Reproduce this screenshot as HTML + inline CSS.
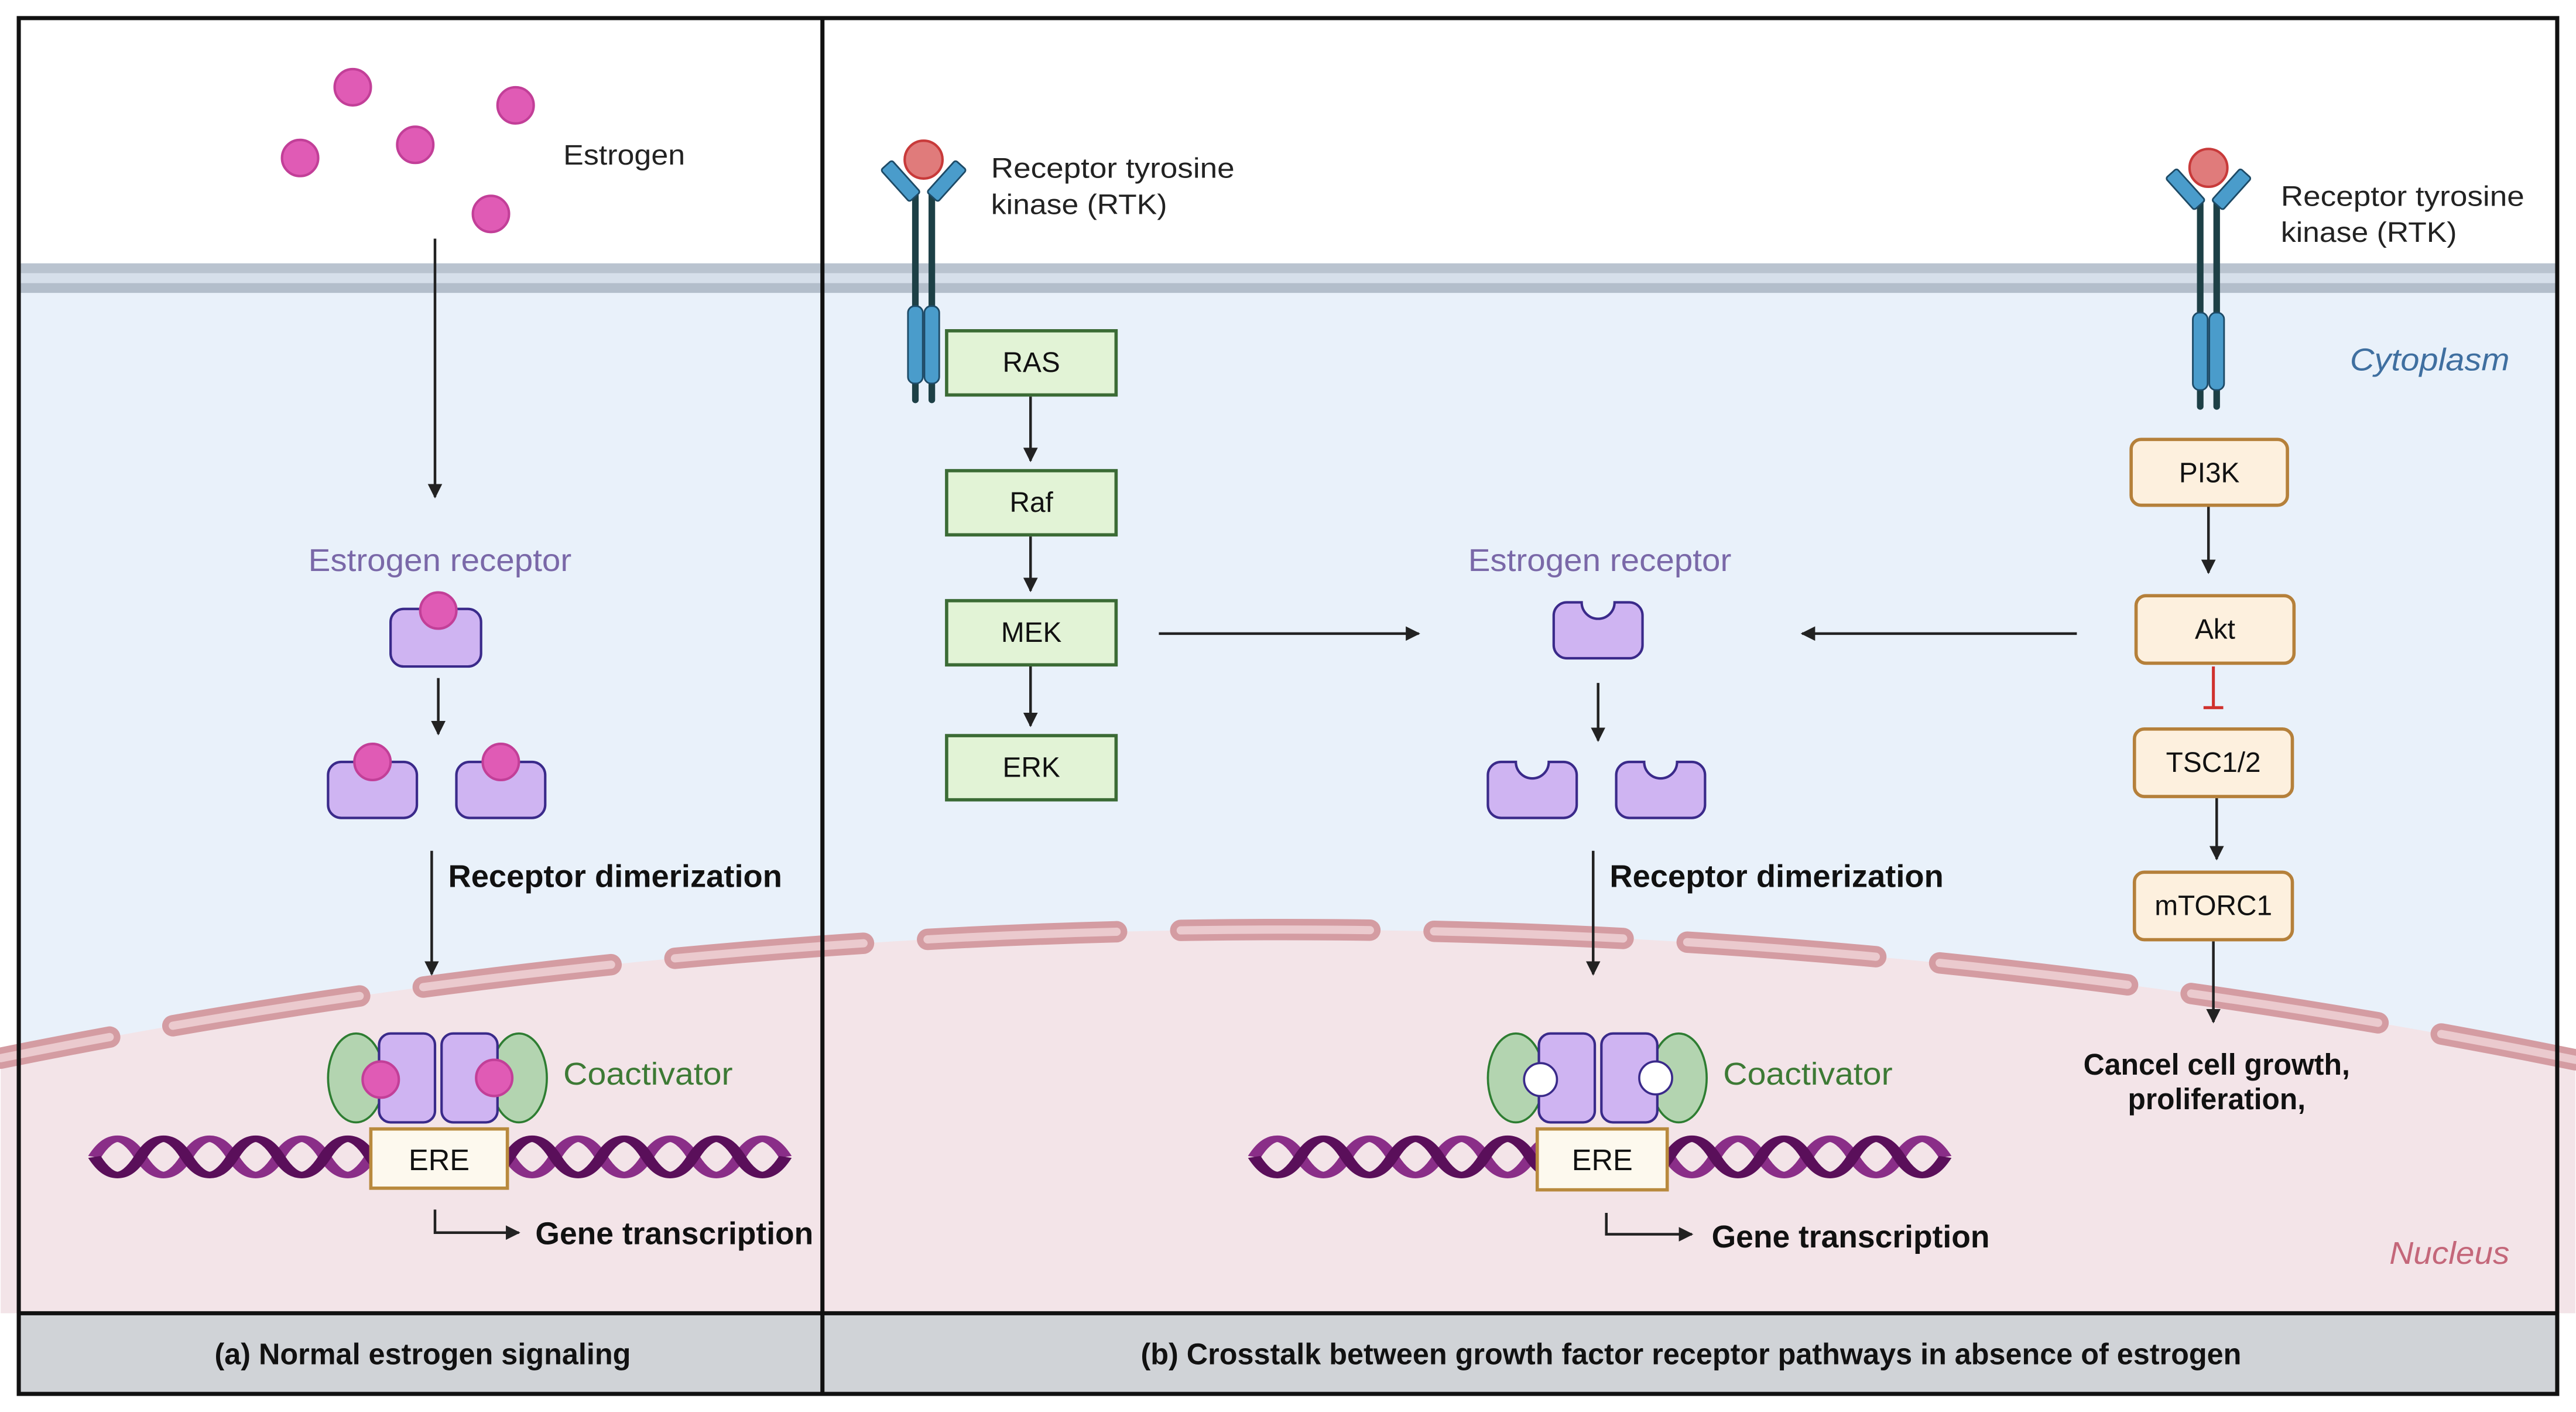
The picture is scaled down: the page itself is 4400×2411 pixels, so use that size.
<!DOCTYPE html>
<html><head><meta charset="utf-8"><style>html,body{margin:0;padding:0;background:#fff}svg{display:block}text{font-family:"Liberation Sans",sans-serif}</style></head><body>
<svg xmlns="http://www.w3.org/2000/svg" width="4400" height="2411" viewBox="0 0 1565 858">
<defs>
<marker id="ah" viewBox="0 0 10 10" refX="9" refY="5" markerWidth="5.5" markerHeight="5.5" orient="auto-start-reverse"><path d="M0,0L10,5L0,10z" fill="#222"/></marker>
</defs>
<rect width="1565" height="858" fill="#fff"/>
<rect x="10" y="178" width="1545" height="620" fill="#e9f1fa"/>
<rect x="10" y="160" width="1545" height="6" fill="#b9c3cf"/>
<rect x="10" y="166" width="1545" height="6" fill="#d6dfea"/>
<rect x="10" y="172" width="1545" height="6" fill="#b3becb"/>
<path d="M0,643 A3932,3932 0 0 1 1565,644 L1565,798 L0,798Z" fill="#f3e4e8"/>
<path d="M0,643 A3932,3932 0 0 1 1565,644" fill="none" stroke="#d49ca2" stroke-width="13" stroke-linecap="round" stroke-dasharray="115 39" stroke-dashoffset="47.5"/>
<path d="M0,643 A3932,3932 0 0 1 1565,644" fill="none" stroke="#ebcace" stroke-width="5" stroke-linecap="round" stroke-dasharray="115 39" stroke-dashoffset="47.5"/>

<!-- ===== Panel A ===== -->
<g fill="#e05bb5" stroke="#c23f98" stroke-width="1.5">
<circle cx="214" cy="53" r="11"/><circle cx="182" cy="96" r="11"/><circle cx="252" cy="88" r="11"/><circle cx="313" cy="64" r="11"/><circle cx="298" cy="130" r="11"/>
</g>
<text x="342" y="100" font-size="17" fill="#222" textLength="74" lengthAdjust="spacingAndGlyphs">Estrogen</text>
<line x1="264" y1="145" x2="264" y2="302" stroke="#222" stroke-width="1.6" marker-end="url(#ah)"/>
<text x="187" y="347" font-size="19" fill="#7a68a8" textLength="160" lengthAdjust="spacingAndGlyphs">Estrogen receptor</text>
<g fill="#cfb4f2" stroke="#3a2a8a" stroke-width="1.5">
<rect x="237" y="370" width="55" height="35" rx="8"/>
<rect x="199" y="463" width="54" height="34" rx="8"/>
<rect x="277" y="463" width="54" height="34" rx="8"/>
</g>
<g fill="#e05bb5" stroke="#c23f98" stroke-width="1.5">
<circle cx="266" cy="371" r="11"/><circle cx="226" cy="463" r="11"/><circle cx="304" cy="463" r="11"/>
</g>
<line x1="266" y1="412" x2="266" y2="446" stroke="#222" stroke-width="1.6" marker-end="url(#ah)"/>
<line x1="262" y1="517" x2="262" y2="592" stroke="#222" stroke-width="1.6" marker-end="url(#ah)"/>
<text x="272" y="539" font-size="19" font-weight="bold" fill="#111" textLength="203" lengthAdjust="spacingAndGlyphs">Receptor dimerization</text>
<g fill="none" stroke-width="4">
<path d="M57,703 q7,-22 14,0 t14,0 t14,0 t14,0 t14,0 t14,0 t14,0 t14,0 t14,0 t14,0 t14,0 t14,0 t14,0 t14,0 t14,0" stroke="#8a2e88" transform="translate(57,703) scale(2,1) translate(-57,-703)"/>
<path d="M57,703 q7,22 14,0 t14,0 t14,0 t14,0 t14,0 t14,0 t14,0 t14,0 t14,0 t14,0 t14,0 t14,0 t14,0 t14,0 t14,0" stroke="#5a0f5a" transform="translate(57,703) scale(2,1) translate(-57,-703)"/>
</g>
<g fill="#b3d4b0" stroke="#2e7d32" stroke-width="1.3">
<ellipse cx="216" cy="655" rx="17" ry="27"/><ellipse cx="315" cy="655" rx="17" ry="27"/>
</g>
<g fill="#cfb4f2" stroke="#3a2a8a" stroke-width="1.5">
<rect x="230" y="628" width="34" height="54" rx="7"/><rect x="268" y="628" width="34" height="54" rx="7"/>
</g>
<g fill="#e05bb5" stroke="#c23f98" stroke-width="1.5"><circle cx="231" cy="656" r="11"/><circle cx="300" cy="655" r="11"/></g>
<text x="342" y="659" font-size="19" fill="#3d7a35" textLength="103" lengthAdjust="spacingAndGlyphs">Coactivator</text>
<rect x="225" y="686" width="83" height="36" fill="#fdf9ee" stroke="#b98a3e" stroke-width="2"/>
<text x="266.5" y="711" font-size="18" fill="#111" text-anchor="middle">ERE</text>
<path d="M264,735 V749 H315" fill="none" stroke="#222" stroke-width="1.6" marker-end="url(#ah)"/>
<text x="325" y="756" font-size="19" font-weight="bold" fill="#111" textLength="169" lengthAdjust="spacingAndGlyphs">Gene transcription</text>

<!-- ===== Panel B ===== -->
<g>
<line x1="556" y1="118" x2="556" y2="243" stroke="#1d4046" stroke-width="4" stroke-linecap="round"/>
<line x1="566" y1="118" x2="566" y2="243" stroke="#1d4046" stroke-width="4" stroke-linecap="round"/>
<rect x="551.5" y="186" width="9" height="47" rx="4" fill="#4a9ccb" stroke="#1d4a66" stroke-width="1"/>
<rect x="561.5" y="186" width="9" height="47" rx="4" fill="#4a9ccb" stroke="#1d4a66" stroke-width="1"/>
<rect x="-4.5" y="-13" width="9" height="26" rx="1.5" fill="#4a9ccb" stroke="#1d4a66" stroke-width="1" transform="translate(547,110) rotate(-42)"/>
<rect x="-4.5" y="-13" width="9" height="26" rx="1.5" fill="#4a9ccb" stroke="#1d4a66" stroke-width="1" transform="translate(575,110) rotate(42)"/>
<circle cx="561" cy="97" r="11.5" fill="#e07b7b" stroke="#c83a3a" stroke-width="1.5"/>
</g>
<text x="602" y="108" font-size="17" fill="#222" textLength="148" lengthAdjust="spacingAndGlyphs">Receptor tyrosine</text>
<text x="602" y="130" font-size="17" fill="#222" textLength="107" lengthAdjust="spacingAndGlyphs">kinase (RTK)</text>
<g fill="#e2f3d6" stroke="#3b6b35" stroke-width="2">
<rect x="575" y="201" width="103" height="39"/><rect x="575" y="286" width="103" height="39"/><rect x="575" y="365" width="103" height="39"/><rect x="575" y="447" width="103" height="39"/>
</g>
<g font-size="17" fill="#111" text-anchor="middle">
<text x="626.5" y="226">RAS</text><text x="626.5" y="311">Raf</text><text x="626.5" y="390">MEK</text><text x="626.5" y="472">ERK</text>
</g>
<g stroke="#222" stroke-width="1.6" marker-end="url(#ah)">
<line x1="626" y1="241" x2="626" y2="280"/><line x1="626" y1="326" x2="626" y2="359"/><line x1="626" y1="405" x2="626" y2="441"/>
<line x1="704" y1="385" x2="862" y2="385"/><line x1="1262" y1="385" x2="1095" y2="385"/>
<line x1="971" y1="415" x2="971" y2="450"/><line x1="968" y1="517" x2="968" y2="592"/>
<line x1="1342" y1="308" x2="1342" y2="348"/><line x1="1347" y1="485" x2="1347" y2="522"/><line x1="1345" y1="572" x2="1345" y2="621"/>
</g>
<text x="892" y="347" font-size="19" fill="#7a68a8" textLength="160" lengthAdjust="spacingAndGlyphs">Estrogen receptor</text>
<g fill="#cfb4f2" stroke="#3a2a8a" stroke-width="1.5">
<path d="M952,366 H961 A10,10 0 0 0 981,366 H990 A8,8 0 0 1 998,374 V392 A8,8 0 0 1 990,400 H952 A8,8 0 0 1 944,392 V374 A8,8 0 0 1 952,366Z"/>
<path d="M912,463 H921 A10,10 0 0 0 941,463 H950 A8,8 0 0 1 958,471 V489 A8,8 0 0 1 950,497 H912 A8,8 0 0 1 904,489 V471 A8,8 0 0 1 912,463Z"/>
<path d="M990,463 H999 A10,10 0 0 0 1019,463 H1028 A8,8 0 0 1 1036,471 V489 A8,8 0 0 1 1028,497 H990 A8,8 0 0 1 982,489 V471 A8,8 0 0 1 990,463Z"/>
</g>
<text x="978" y="539" font-size="19" font-weight="bold" fill="#111" textLength="203" lengthAdjust="spacingAndGlyphs">Receptor dimerization</text>
<g fill="none" stroke-width="4">
<path d="M762,703 q7,-22 14,0 t14,0 t14,0 t14,0 t14,0 t14,0 t14,0 t14,0 t14,0 t14,0 t14,0 t14,0 t14,0 t14,0 t14,0" stroke="#8a2e88" transform="translate(762,703) scale(2,1) translate(-762,-703)"/>
<path d="M762,703 q7,22 14,0 t14,0 t14,0 t14,0 t14,0 t14,0 t14,0 t14,0 t14,0 t14,0 t14,0 t14,0 t14,0 t14,0 t14,0" stroke="#5a0f5a" transform="translate(762,703) scale(2,1) translate(-762,-703)"/>
</g>
<g fill="#b3d4b0" stroke="#2e7d32" stroke-width="1.3">
<ellipse cx="921" cy="655" rx="17" ry="27"/><ellipse cx="1020" cy="655" rx="17" ry="27"/>
</g>
<g fill="#cfb4f2" stroke="#3a2a8a" stroke-width="1.5">
<rect x="935" y="628" width="34" height="54" rx="7"/><rect x="973" y="628" width="34" height="54" rx="7"/>
</g>
<g fill="#fff" stroke="#3a2a8a" stroke-width="1.3"><circle cx="936" cy="656" r="10"/><circle cx="1006" cy="655" r="10"/></g>
<text x="1047" y="659" font-size="19" fill="#3d7a35" textLength="103" lengthAdjust="spacingAndGlyphs">Coactivator</text>
<rect x="934" y="686" width="79" height="37" fill="#fdf9ee" stroke="#b98a3e" stroke-width="2"/>
<text x="973.5" y="711" font-size="18" fill="#111" text-anchor="middle">ERE</text>
<path d="M976,737 V750 H1028" fill="none" stroke="#222" stroke-width="1.6" marker-end="url(#ah)"/>
<text x="1040" y="758" font-size="19" font-weight="bold" fill="#111" textLength="169" lengthAdjust="spacingAndGlyphs">Gene transcription</text>
<g>
<line x1="1337" y1="123" x2="1337" y2="247" stroke="#1d4046" stroke-width="4" stroke-linecap="round"/>
<line x1="1347" y1="123" x2="1347" y2="247" stroke="#1d4046" stroke-width="4" stroke-linecap="round"/>
<rect x="1332.5" y="190" width="9" height="47" rx="4" fill="#4a9ccb" stroke="#1d4a66" stroke-width="1"/>
<rect x="1342.5" y="190" width="9" height="47" rx="4" fill="#4a9ccb" stroke="#1d4a66" stroke-width="1"/>
<rect x="-4.5" y="-13" width="9" height="26" rx="1.5" fill="#4a9ccb" stroke="#1d4a66" stroke-width="1" transform="translate(1328,115) rotate(-42)"/>
<rect x="-4.5" y="-13" width="9" height="26" rx="1.5" fill="#4a9ccb" stroke="#1d4a66" stroke-width="1" transform="translate(1356,115) rotate(42)"/>
<circle cx="1342" cy="102" r="11.5" fill="#e07b7b" stroke="#c83a3a" stroke-width="1.5"/>
</g>
<text x="1386" y="125" font-size="17" fill="#222" textLength="148" lengthAdjust="spacingAndGlyphs">Receptor tyrosine</text>
<text x="1386" y="147" font-size="17" fill="#222" textLength="107" lengthAdjust="spacingAndGlyphs">kinase (RTK)</text>
<text x="1525" y="225" font-size="19" font-style="italic" fill="#3f6fa0" text-anchor="end" textLength="97" lengthAdjust="spacingAndGlyphs">Cytoplasm</text>
<g fill="#fdf0de" stroke="#b5803a" stroke-width="2">
<rect x="1295" y="267" width="95" height="40" rx="6"/><rect x="1298" y="362" width="96" height="41" rx="6"/><rect x="1297" y="443" width="96" height="41" rx="6"/><rect x="1297" y="530" width="96" height="41" rx="6"/>
</g>
<g font-size="17" fill="#111" text-anchor="middle">
<text x="1342.5" y="293">PI3K</text><text x="1346" y="388">Akt</text><text x="1345" y="469">TSC1/2</text><text x="1345" y="556">mTORC1</text>
</g>
<path d="M1345,405 V430 M1339,430 H1351" stroke="#d0312d" stroke-width="1.8" fill="none"/>
<text x="1347" y="653" font-size="18" font-weight="bold" fill="#111" text-anchor="middle" textLength="162" lengthAdjust="spacingAndGlyphs">Cancel cell growth,</text>
<text x="1347" y="674" font-size="18" font-weight="bold" fill="#111" text-anchor="middle" textLength="108" lengthAdjust="spacingAndGlyphs">proliferation,</text>
<text x="1525" y="768" font-size="19" font-style="italic" fill="#c4677a" text-anchor="end" textLength="73" lengthAdjust="spacingAndGlyphs">Nucleus</text>

<rect x="10" y="798" width="1545" height="50" fill="#d0d3d7"/>
<line x1="10" y1="798" x2="1555" y2="798" stroke="#111" stroke-width="2.5"/>
<text x="130" y="829" font-size="18" font-weight="bold" fill="#111" textLength="253" lengthAdjust="spacingAndGlyphs">(a) Normal estrogen signaling</text>
<text x="693" y="829" font-size="18" font-weight="bold" fill="#111" textLength="669" lengthAdjust="spacingAndGlyphs">(b) Crosstalk between growth factor receptor pathways in absence of estrogen</text>
<line x1="499.5" y1="10" x2="499.5" y2="848" stroke="#111" stroke-width="2.5"/>
<rect x="11" y="11" width="1543" height="836" fill="none" stroke="#111" stroke-width="2.5"/>
</svg>
</body></html>
